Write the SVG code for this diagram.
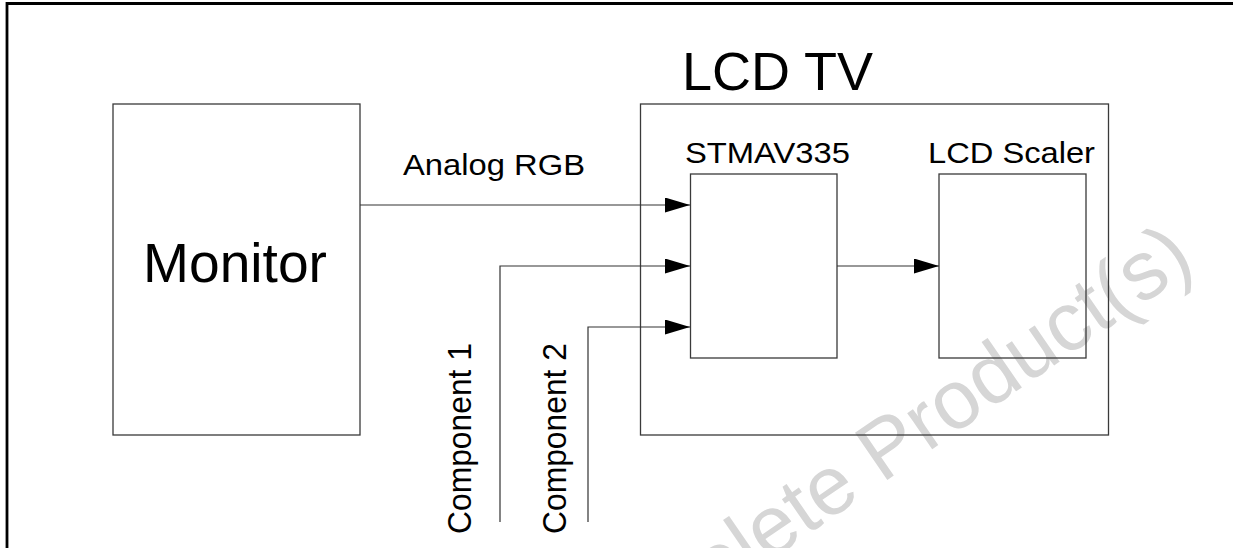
<svg xmlns="http://www.w3.org/2000/svg" width="1233" height="548" viewBox="0 0 1233 548">
<defs>
<style>
.box{fill:none;stroke:#3a3a3a;stroke-width:1.3}
.wire{fill:none;stroke:#333;stroke-width:1.2}
.lbl{font-family:"Liberation Sans",Arial,sans-serif;fill:#000}
.wm{font-family:"Liberation Sans",Arial,sans-serif;fill:#d6d6d6;font-size:83px}
</style>
<marker id="arr" markerUnits="userSpaceOnUse" markerWidth="25" markerHeight="15" refX="25" refY="7.5" orient="auto">
<path d="M0,0 L25,7.5 L0,15 Z" fill="#000"/>
</marker>
</defs>
<rect width="1233" height="548" fill="#fff"/>
<text class="wm" transform="translate(589,685) rotate(-34.5)">Obsolete Product(s)</text>
<path d="M7,548 V3.5 H1233" fill="none" stroke="#000" stroke-width="2.8"/>
<g id="monitor">
<rect class="box" x="113" y="104" width="247" height="331"/>
<text class="lbl" x="143" y="282" font-size="55" textLength="184" lengthAdjust="spacingAndGlyphs">Monitor</text>
</g>
<g id="lcdtv">
<rect class="box" x="640.5" y="104" width="468" height="331"/>
<text class="lbl" x="682" y="90" font-size="54" textLength="191" lengthAdjust="spacingAndGlyphs">LCD TV</text>
</g>
<g id="stmav335">
<rect class="box" x="690.5" y="174" width="146.5" height="184"/>
<text class="lbl" x="685" y="163" font-size="30" textLength="165" lengthAdjust="spacingAndGlyphs">STMAV335</text>
</g>
<g id="scaler">
<rect class="box" x="939" y="174" width="147" height="184"/>
<text class="lbl" x="928" y="163" font-size="30" textLength="167" lengthAdjust="spacingAndGlyphs">LCD Scaler</text>
</g>
<g id="connectors">
<path class="wire" d="M360,205 H690" marker-end="url(#arr)"/>
<path class="wire" d="M500,522 V266 H690" marker-end="url(#arr)"/>
<path class="wire" d="M588,522 V327 H690" marker-end="url(#arr)"/>
<path class="wire" d="M837,266 H939" marker-end="url(#arr)"/>
</g>
<g id="labels">
<text class="lbl" x="403" y="175" font-size="29" textLength="182" lengthAdjust="spacingAndGlyphs">Analog RGB</text>
<text class="lbl" transform="translate(471,534) rotate(-90)" font-size="33" textLength="191" lengthAdjust="spacingAndGlyphs">Component 1</text>
<text class="lbl" transform="translate(566,534) rotate(-90)" font-size="33" textLength="191" lengthAdjust="spacingAndGlyphs">Component 2</text>
</g>
</svg>
